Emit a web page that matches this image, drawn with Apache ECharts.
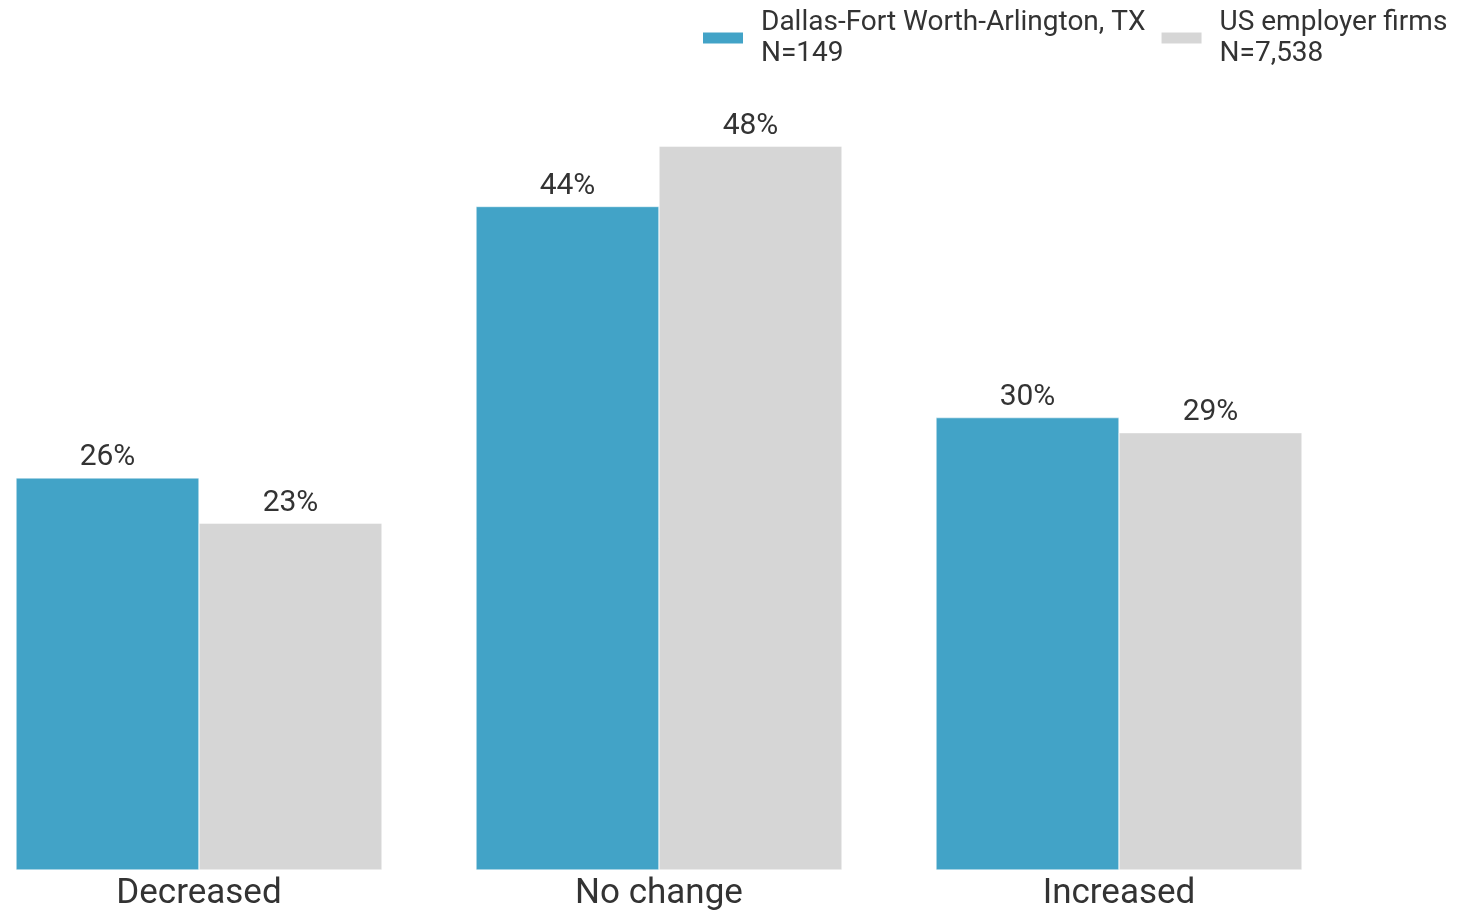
<!DOCTYPE html>
<html>
<head>
<meta charset="utf-8">
<title>Change</title>
<script src="https://cdn.jsdelivr.net/npm/echarts@6/dist/echarts.min.js"></script>
<style>
  html, body { margin: 0; padding: 0; background: #fff; }
  #chart { width: 1460px; height: 912px; }
</style>
</head>
<body>
<div id="chart"></div>
<script>
var categories = ['Decreased', 'No change', 'Increased']
var seriesNames = ['Dallas-Fort Worth-Arlington, TX', 'US employer firms']
var sampleSizes = ['N=149', 'N=7,538']
var dallas = [26, 44, 30]
var usFirms = [23, 48, 29]

var chart = echarts.init(document.getElementById('chart'))

var labelStyle = {
  show: true,
  position: 'top',
  distance: 5,
  color: '#333',
  fontFamily: 'Roboto',
  fontSize: 30,
  formatter: function (p) {
    return p.value + '%'
  }
}

chart.setOption({
  animation: false,
  textStyle: { fontFamily: 'Roboto' },
  legend: {
    left: 696,
    top: 2,
    itemWidth: 42,
    itemHeight: 13,
    itemGap: 14,
    icon: 'rect',
    selectedMode: false,
    data: seriesNames,
    formatter: function (name) {
      return name + '\n' + sampleSizes[seriesNames.indexOf(name)]
    },
    textStyle: {
      color: '#333',
      fontSize: 28,
      lineHeight: 31,
      padding: [0, 0, 0, 12]
    }
  },
  grid: {
    // category centres sit on the grid edges (boundaryGap false)
    left: 199,
    right: 341,
    top: 116,
    bottom: 42,
    containLabel: false
  },
  xAxis: {
    type: 'category',
    data: categories,
    boundaryGap: false,
    axisLine: { show: false },
    axisTick: { show: false },
    splitLine: { show: false },
    axisLabel: {
      color: '#333',
      fontSize: 35,
      margin: 7
    }
  },
  yAxis: {
    type: 'value',
    min: 0,
    max: 50,
    show: false,
    splitLine: { show: false }
  },
  series: [{
    name: seriesNames[0],
    type: 'bar',
    clip: false,
    barGap: '0%',
    barWidth: 183,
    itemStyle: { color: '#42A3C7', borderColor: '#fff', borderWidth: 0.5 },
    label: labelStyle,
    data: dallas
  }, {
    name: seriesNames[1],
    type: 'bar',
    clip: false,
    barGap: '0%',
    barWidth: 183,
    itemStyle: { color: '#D6D6D6', borderColor: '#fff', borderWidth: 0.5 },
    label: labelStyle,
    data: usFirms
  }]
})
</script>
</body>
</html>
